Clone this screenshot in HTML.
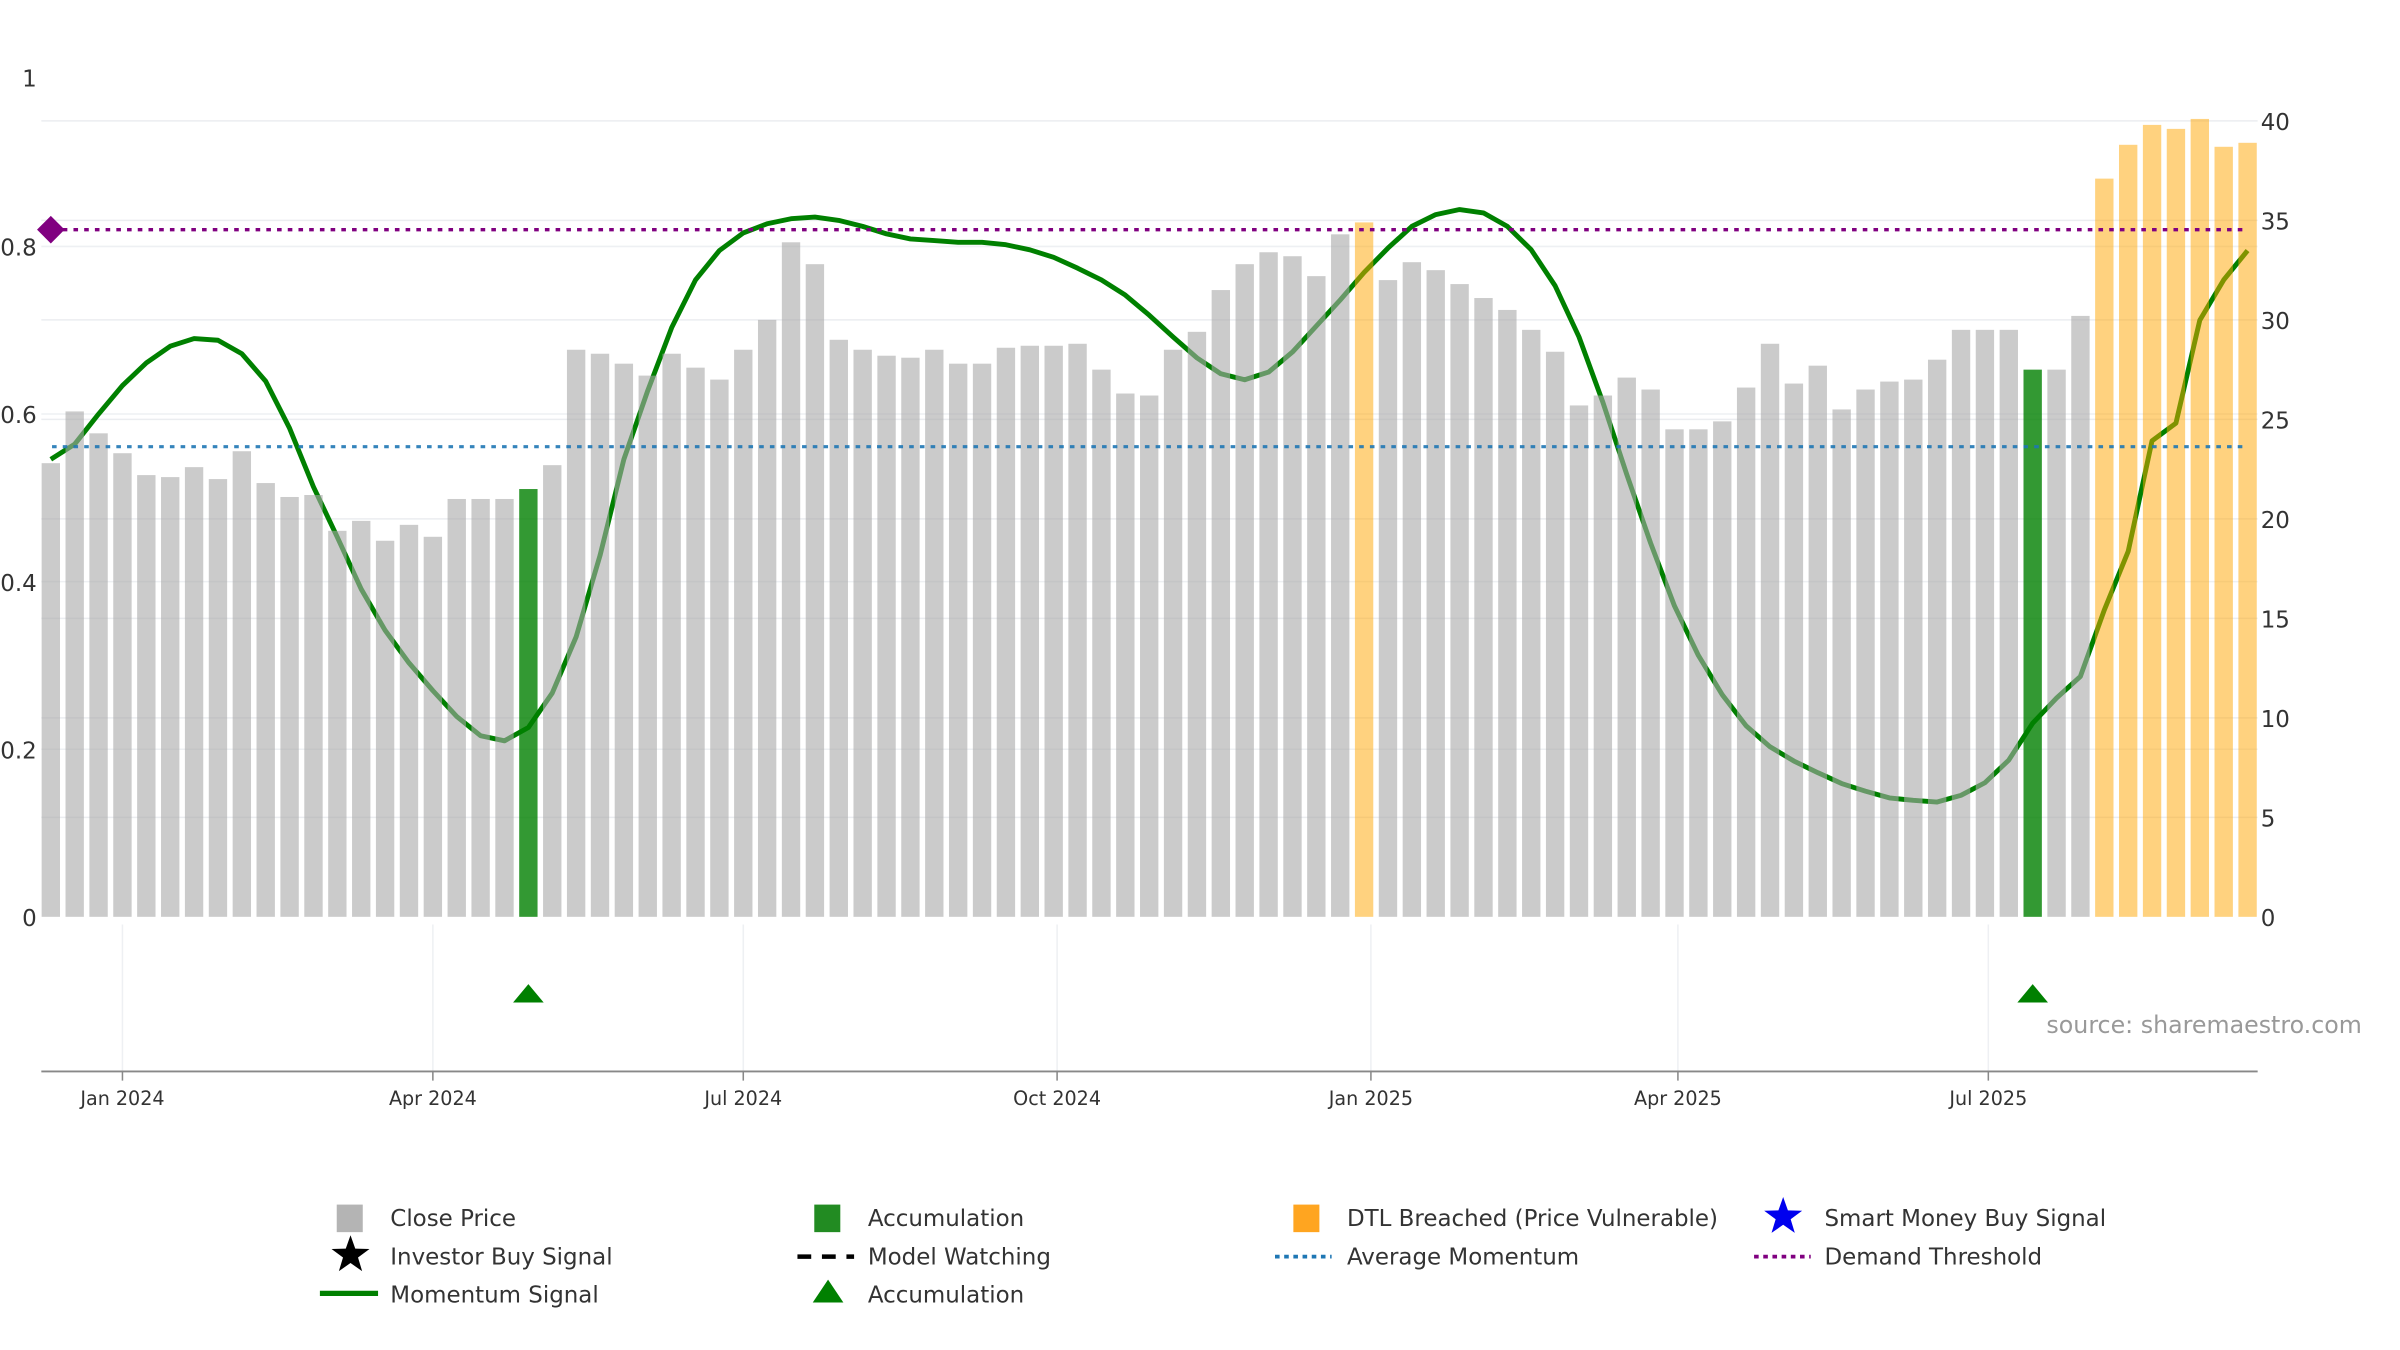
<!DOCTYPE html>
<html><head><meta charset="utf-8">
<style>
html,body{margin:0;padding:0;background:#fff;}
svg{display:block;font-family:"DejaVu Sans","Liberation Sans",sans-serif;}
</style></head>
<body>
<svg id="chart" width="2400" height="1350" viewBox="0 0 1568 882" preserveAspectRatio="none" xmlns="http://www.w3.org/2000/svg">
<g id="grid"></g>
<g id="lower"></g>
<g id="line"></g>
<g id="bars"></g>
<g id="refs"></g>
<g id="axes"></g>
<g id="legend"></g>
<text x="1337" y="675" font-size="15.5" fill="#999">source: sharemaestro.com</text>
</svg>
<script>
const closePrices=[22.8,25.4,24.3,23.3,22.2,22.1,22.6,22.0,23.4,21.8,21.1,21.2,19.4,19.9,18.9,19.7,19.1,21.0,21.0,21.0,21.5,22.7,28.5,28.3,27.8,27.2,28.3,27.6,27.0,28.5,30.0,33.9,32.8,29.0,28.5,28.2,28.1,28.5,27.8,27.8,28.6,28.7,28.7,28.8,27.5,26.3,26.2,28.5,29.4,31.5,32.8,33.4,33.2,32.2,34.3,34.9,32.0,32.9,32.5,31.8,31.1,30.5,29.5,28.4,25.7,26.2,27.1,26.5,24.5,24.5,24.9,26.6,28.8,26.8,27.7,25.5,26.5,26.9,27.0,28.0,29.5,29.5,29.5,27.5,27.5,30.2,37.1,38.8,39.8,39.6,40.1,38.7,38.9];
const barState=[0,0,0,0,0,0,0,0,0,0,0,0,0,0,0,0,0,0,0,0,1,0,0,0,0,0,0,0,0,0,0,0,0,0,0,0,0,0,0,0,0,0,0,0,0,0,0,0,0,0,0,0,0,0,0,2,0,0,0,0,0,0,0,0,0,0,0,0,0,0,0,0,0,0,0,0,0,0,0,0,0,0,0,1,0,0,2,2,2,2,2,2,2];
const momentum=[0.546,0.564,0.60,0.634,0.661,0.681,0.690,0.688,0.672,0.639,0.583,0.513,0.453,0.391,0.342,0.303,0.270,0.239,0.216,0.210,0.226,0.267,0.334,0.431,0.546,0.628,0.703,0.760,0.795,0.816,0.827,0.833,0.835,0.831,0.824,0.815,0.809,0.807,0.805,0.805,0.802,0.796,0.787,0.774,0.760,0.742,0.718,0.692,0.667,0.648,0.641,0.650,0.674,0.705,0.736,0.769,0.798,0.824,0.838,0.844,0.840,0.824,0.796,0.753,0.692,0.614,0.528,0.446,0.371,0.312,0.265,0.228,0.203,0.186,0.172,0.159,0.150,0.142,0.139,0.137,0.145,0.160,0.187,0.231,0.261,0.287,0.366,0.436,0.568,0.589,0.712,0.760,0.795];
const accumSignals=[20,83];
const avgMomentum=0.561;
const demandThreshold=0.82;
const leftTicks=[0,0.2,0.4,0.6,0.8,1];
const rightTicks=[0,5,10,15,20,25,30,35,40];
const monthTicks=[["Jan 2024","2024-01-01"],["Apr 2024","2024-04-01"],["Jul 2024","2024-07-01"],["Oct 2024","2024-10-01"],["Jan 2025","2025-01-01"],["Apr 2025","2025-04-01"],["Jul 2025","2025-07-01"]];
const firstBarDate="2023-12-11";

const NS="http://www.w3.org/2000/svg";
function mk(tag,attrs,parent){const e=document.createElementNS(NS,tag);for(const k in attrs)e.setAttribute(k,attrs[k]);parent.appendChild(e);return e;}
const DAY=86400000, T0=Date.parse("2024-01-01");
function xDate(s){return 80+(Date.parse(s)-T0)/DAY*2.2286;}
function xBar(i){return xDate(firstBarDate)+i*7*2.2286;}
function yL(v){return 599-v*547.5;}
function yR(v){return 599-v*13;}
const G=id=>document.getElementById(id);

rightTicks.forEach(t=>{if(t===0)return;const l=mk('line',{x1:27,x2:1475,y1:yR(t),y2:yR(t),stroke:'#ebedf0','stroke-width':1},G('grid'));

});
leftTicks.forEach(t=>{if(t===0||t===1)return;const l=mk('line',{x1:27,x2:1475,y1:yL(t),y2:yL(t),stroke:'#eef0f3','stroke-width':1},G('grid'));

});
monthTicks.forEach(m=>{const x=xDate(m[1]);const l=mk('line',{x1:x,x2:x,y1:604,y2:700,stroke:'#eef0f3','stroke-width':1},G('lower'));

});

let d=momentum.map((v,i)=>(i?'L':'M')+xBar(i).toFixed(1)+','+yL(v).toFixed(1)).join(' ');
const pl=mk('path',{d:d,fill:'none',stroke:'#008000','stroke-width':3.2,'stroke-linejoin':'round'},G('line'));



const colors=[['#a8a8a8',0.6],['#008000',0.8],['#ffa500',0.5]];
closePrices.forEach((v,i)=>{const c=colors[barState[i]];
const r=mk('rect',{x:xBar(i)-6,y:yR(v),width:12,height:yR(0)-yR(v),fill:c[0],'fill-opacity':c[1]},G('bars'));

});

const dl=mk('line',{x1:34,x2:1468,y1:yL(demandThreshold),y2:yL(demandThreshold),stroke:'#800080','stroke-width':2.2,'stroke-dasharray':'3,4'},G('refs'));


const al=mk('line',{x1:34,x2:1468,y1:yL(avgMomentum),y2:yL(avgMomentum),stroke:'#1f77b4','stroke-width':2,'stroke-dasharray':'3,4','stroke-opacity':0.9},G('refs'));


const dy=yL(demandThreshold),dx=xBar(0);
const dm=mk('path',{d:`M${dx-9},${dy} L${dx},${dy-9} L${dx+9},${dy} L${dx},${dy+9}Z`,fill:'#800080'},G('refs'));


accumSignals.forEach(i=>{const x=xBar(i);const t=mk('path',{d:`M${x-10},655 L${x},643 L${x+10},655Z`,fill:'#008000'},G('lower'));

});

const ax=mk('line',{x1:27,x2:1475,y1:700,y2:700,stroke:'#888','stroke-width':1.2},G('axes'));


monthTicks.forEach(m=>{const x=xDate(m[1]);
const tk=mk('line',{x1:x,x2:x,y1:700,y2:706,stroke:'#888'},G('axes'));


const t=mk('text',{x:x,y:722,'font-size':12.5,'text-anchor':'middle',fill:'#333'},G('axes'));t.textContent=m[0];

});
leftTicks.forEach(v=>{const t=mk('text',{x:24,y:yL(v)+(v===1?5:6),'font-size':15,'text-anchor':'end',fill:'#333'},G('axes'));t.textContent=String(v);

});
rightTicks.forEach(v=>{const t=mk('text',{x:1477,y:yR(v)+6,'font-size':15,fill:'#333'},G('axes'));t.textContent=String(v);

});

const L=G('legend');
function ltext(x,y,s){const t=mk('text',{x:x,y:y+5,'font-size':15,fill:'#333'},L);t.textContent=s;

return t;}
function star(cx,cy,r,fill){let p='';for(let k=0;k<10;k++){const a=-Math.PI/2+k*Math.PI/5,rr=k%2?r*0.4:r;p+=(k?'L':'M')+(cx+rr*Math.cos(a)).toFixed(1)+','+(cy+rr*Math.sin(a)).toFixed(1);}return mk('path',{d:p+'Z',fill:fill},L);}
let e;
e=mk('rect',{x:220,y:787,width:17,height:18,fill:'#b4b4b4'},L);ltext(255,796,'Close Price');
e=mk('rect',{x:532,y:787,width:17,height:18,fill:'#228b22'},L);ltext(567,796,'Accumulation');
e=mk('rect',{x:845,y:787,width:17,height:18,fill:'#ffa520'},L);ltext(880,796,'DTL Breached (Price Vulnerable)');
e=star(1165,795,13,'#0000ee');ltext(1192,796,'Smart Money Buy Signal');
e=star(229,820,13,'#000');ltext(255,821,'Investor Buy Signal');
e=mk('line',{x1:521,x2:558,y1:821,y2:821,stroke:'#000','stroke-width':3,'stroke-dasharray':'9,7'},L);ltext(567,821,'Model Watching');
e=mk('line',{x1:833,x2:870,y1:821,y2:821,stroke:'#1f77b4','stroke-width':2.5,'stroke-dasharray':'3,3'},L);ltext(880,821,'Average Momentum');
e=mk('line',{x1:1146,x2:1183,y1:821,y2:821,stroke:'#800080','stroke-width':2.5,'stroke-dasharray':'3,3'},L);ltext(1192,821,'Demand Threshold');
e=mk('line',{x1:209,x2:247,y1:845,y2:845,stroke:'#008000','stroke-width':3.5},L);ltext(255,846,'Momentum Signal');
e=mk('path',{d:'M531,851 L541,836 L551,851Z',fill:'#008000'},L);ltext(567,846,'Accumulation');
</script>
</body></html>
